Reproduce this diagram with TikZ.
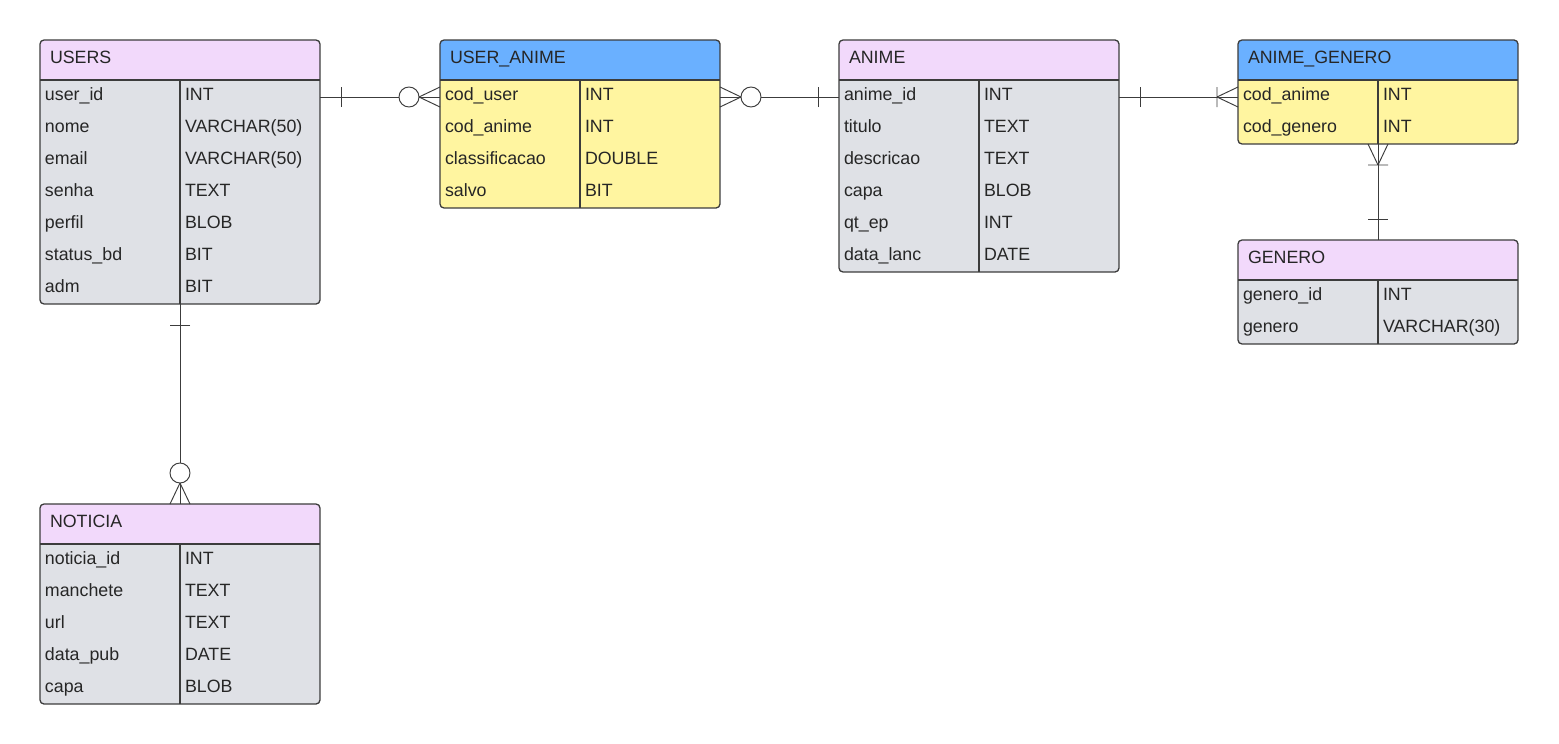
\documentclass[tikz,border=0pt]{standalone}
\usepackage{fontspec}
\setmainfont{Liberation Sans}
\usetikzlibrary{calc}
\definecolor{hdrpink}{HTML}{F2D9FB}
\definecolor{hdrblue}{HTML}{6AB0FF}
\definecolor{bodygray}{HTML}{DFE1E6}
\definecolor{bodyyellow}{HTML}{FFF5A0}
\definecolor{edge}{HTML}{3C3C3C}
\definecolor{txt}{HTML}{262626}
\tikzset{
 cell/.style={anchor=base west, inner sep=0pt, outer sep=0pt, text=txt, font=\fontsize{17.8}{20}\selectfont},
 conn/.style={draw=edge, line width=0.95pt},
 pics/onebar/.style={code={\draw[conn] (-21pt,-10pt) -- (-21pt,10pt);}},
 pics/zeromany/.style={code={\draw[conn] (-21pt,0) -- (0,10pt) (-21pt,0) -- (0,-10pt); \draw[conn, fill=white] (-31pt,0) circle[radius=10pt];}},
 pics/onemany/.style={code={\draw[conn] (-21pt,0) -- (0,10pt) (-21pt,0) -- (0,-10pt) (-21pt,-10pt) -- (-21pt,10pt);}},
}
\newcommand\ertable[8]{%
  \pgfmathsetmacro\tblh{40+32*#4}
  \node[inner sep=0pt, outer sep=0pt, minimum width=280pt, minimum height=\tblh pt, anchor=north west] (#1) at (#2,#3) {};
  \begin{scope}
    \clip[rounded corners=4pt] (#1.north west) rectangle (#1.south east);
    \fill[#7] (#1.north west) rectangle (#1.south east);
    \fill[#6] (#1.north west) rectangle ($(#1.north east)+(0,40)$);
  \end{scope}
  \node[cell] (#1-title) at ($(#1.north west)+(10,23.5)$) {#5};
  \foreach \a/\b [count=\k] in {#8} {
     \node[cell] (#1-n\k) at ($(#1.north west)+(5,{40+32*(\k-1)+20})$) {\a};
     \node[cell] (#1-t\k) at ($(#1.north west)+(145,{40+32*(\k-1)+20})$) {\b};
     \coordinate (#1-\k) at ($(#1.north west)+(0,{40+32*(\k-1)+17})$);
  }
  \draw[edge, line width=1.1pt] ($(#1.north west)+(0,40)$) -- ($(#1.north east)+(0,40)$);
  \draw[edge, line width=1.1pt] ($(#1.north west)+(140,40)$) -- ($(#1.south west)+(140,0)$);
  \draw[edge, line width=1.3pt, rounded corners=4pt] (#1.north west) rectangle (#1.south east);
}
\begin{document}
\begin{tikzpicture}[x=1pt, y=-1pt]
\useasboundingbox[fill=white] (0,0) rectangle (1559,744);
\ertable{users}{40}{40}{7}{USERS}{hdrpink}{bodygray}{user\_id/INT, nome/VARCHAR(50), email/VARCHAR(50), senha/TEXT, perfil/BLOB, status\_bd/BIT, adm/BIT}
\ertable{useranime}{440}{40}{4}{USER\_ANIME}{hdrblue}{bodyyellow}{cod\_user/INT, cod\_anime/INT, classificacao/DOUBLE, salvo/BIT}
\ertable{anime}{839}{40}{6}{ANIME}{hdrpink}{bodygray}{anime\_id/INT, titulo/TEXT, descricao/TEXT, capa/BLOB, qt\_ep/INT, data\_lanc/DATE}
\ertable{animegenero}{1238}{40}{2}{ANIME\_GENERO}{hdrblue}{bodyyellow}{cod\_anime/INT, cod\_genero/INT}
\ertable{genero}{1238}{240}{2}{GENERO}{hdrpink}{bodygray}{genero\_id/INT, genero/VARCHAR(30)}
\ertable{noticia}{40}{504}{5}{NOTICIA}{hdrpink}{bodygray}{noticia\_id/INT, manchete/TEXT, url/TEXT, data\_pub/DATE, capa/BLOB}
% connectors
\draw[conn] (users.east |- users-1) -- (useranime.west |- useranime-1);
\pic[rotate=180] at (users.east |- users-1) {onebar};
\pic at (useranime.west |- useranime-1) {zeromany};
\draw[conn] (useranime.east |- useranime-1) -- (anime.west |- anime-1);
\pic[rotate=180] at (useranime.east |- useranime-1) {zeromany};
\pic at (anime.west |- anime-1) {onebar};
\draw[conn] (anime.east |- anime-1) -- (animegenero.west |- animegenero-1);
\pic[rotate=180] at (anime.east |- anime-1) {onebar};
\pic at (animegenero.west |- animegenero-1) {onemany};
\draw[conn] (animegenero.south) -- (genero.north);
\pic[rotate=90] at (animegenero.south) {onemany};
\pic[rotate=-90] at (genero.north) {onebar};
\draw[conn] (users.south) -- (noticia.north);
\pic[rotate=90] at (users.south) {onebar};
\pic[rotate=-90] at (noticia.north) {zeromany};
\end{tikzpicture}
\end{document}
